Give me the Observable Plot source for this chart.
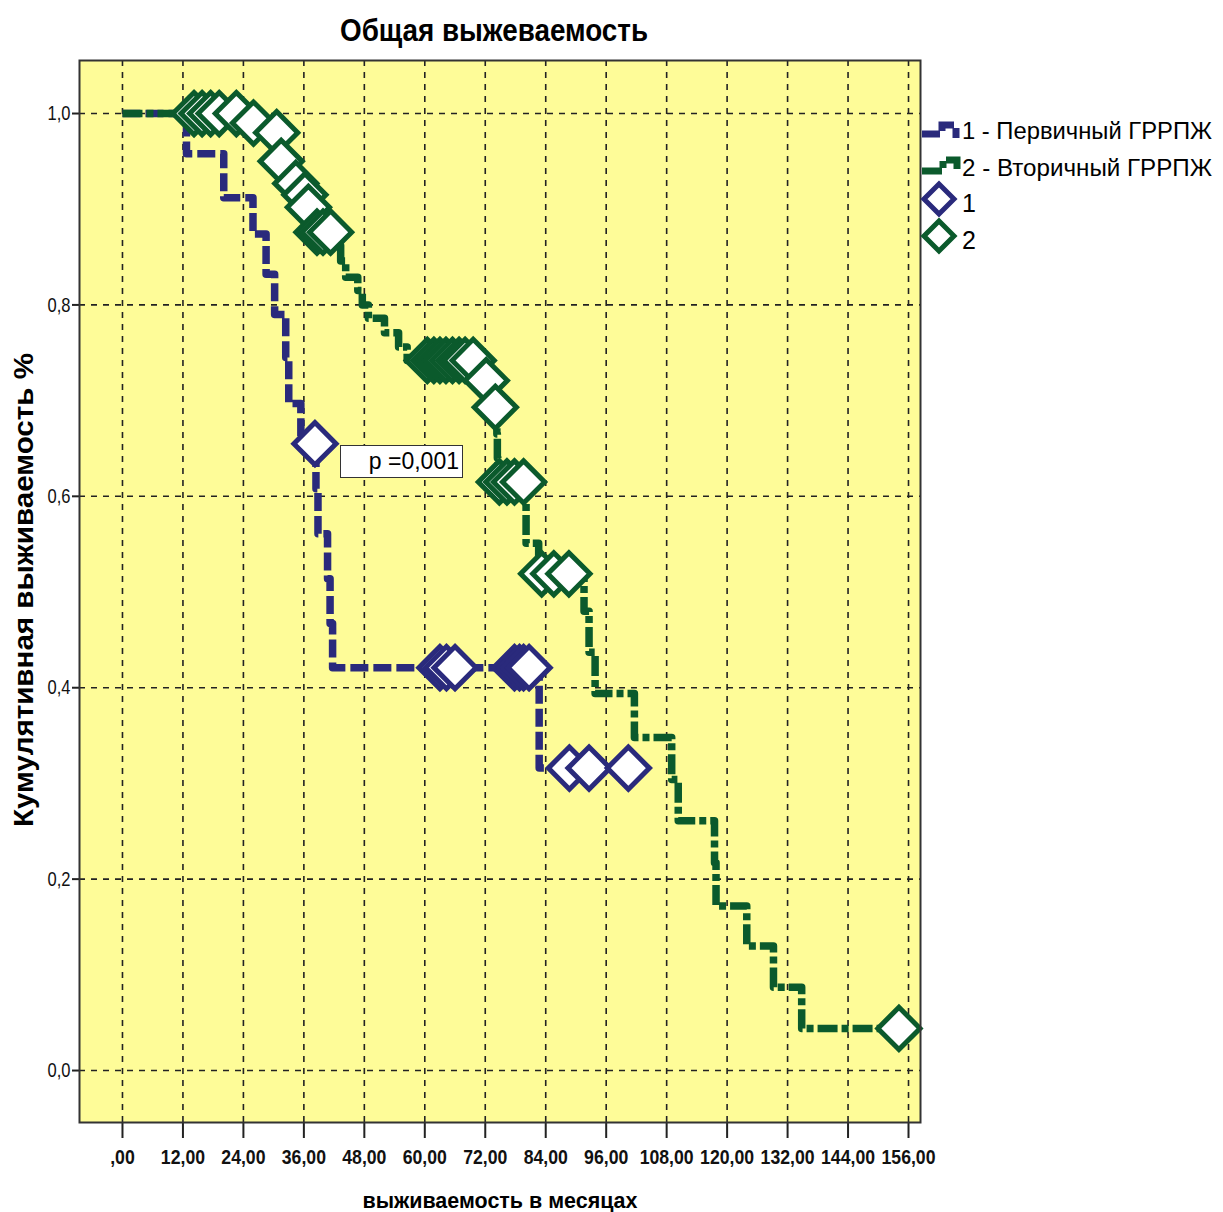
<!DOCTYPE html>
<html><head><meta charset="utf-8">
<script src="https://cdn.jsdelivr.net/npm/d3@7"></script>
<script src="https://cdn.jsdelivr.net/npm/@observablehq/plot@0.6"></script>
<style>
body{margin:0;background:#fff;}
#wrap{position:relative;width:1223px;height:1212px;overflow:hidden;font-family:"Liberation Sans",Arial,sans-serif;}
#wrap > svg{position:absolute;left:0;top:0;}
#pbox{position:absolute;left:340px;top:445px;width:118px;height:31px;border:1.5px solid #333;background:#fff;
 font:23px "Liberation Sans",Arial,sans-serif;text-align:right;line-height:31px;padding-right:3px;box-sizing:content-box;}
</style></head><body><div id="wrap"></div>
<script>
// ---- data ----
const xTicks = [0, 12, 24, 36, 48, 60, 72, 84, 96, 108, 120, 132, 144, 156];
const yTicks = [0, 0.2, 0.4, 0.6, 0.8, 1.0];
const groupNames = ["1 - Первичный ГРРПЖ", "2 - Вторичный ГРРПЖ"];
const censorNames = ["1", "2"];
const titleText = "Общая выжеваемость";
const xLabel = "выживаемость в месяцах";
const yLabel = "Кумулятивная выживаемость %";
const pText = "p =0,001";

// group 1 (primary): step points
const primaryTime = [0, 12.7, 20.1, 25.9, 28.5, 30.2, 32.4, 33.0, 35.4, 38.4, 38.8, 40.7, 41.2, 41.7, 82.7, 100.4];
const primarySurv = [1.0, 0.958, 0.912, 0.874, 0.832, 0.790, 0.745, 0.697, 0.655, 0.608, 0.561, 0.514, 0.467, 0.421, 0.316, 0.316];
const primaryCensTime = [38.2, 63.0, 64.3, 66.0, 77.8, 78.8, 79.6, 80.7, 88.7, 92.6, 100.4];
const primaryCensSurv = [0.655, 0.421, 0.421, 0.421, 0.421, 0.421, 0.421, 0.421, 0.316, 0.316, 0.316];

// group 2 (secondary): step points
const secondaryTime = [0, 24.0, 28.5, 31.0, 31.3, 33.5, 34.0, 35.8, 36.6, 37.3, 38.0, 42.6, 43.3, 44.3, 46.7, 47.6, 48.8, 52.0, 54.8, 56.5,
  71.0, 73.2, 74.3, 74.4, 74.5, 80.1, 82.6, 91.6, 92.6, 93.8, 101.6, 109.0, 110.3, 117.5, 117.8, 123.9, 129.2, 134.8, 154.1];
const secondarySurv = [1.0, 0.99, 0.98, 0.96, 0.95, 0.94, 0.927, 0.915, 0.902, 0.889, 0.876, 0.862, 0.846, 0.829, 0.815, 0.800, 0.786, 0.771, 0.756, 0.742,
  0.721, 0.693, 0.665, 0.640, 0.615, 0.551, 0.519, 0.480, 0.437, 0.394, 0.348, 0.304, 0.261, 0.217, 0.172, 0.130, 0.087, 0.044, 0.044];
const secondaryCensTime = [14.2, 15.8, 17.5, 19.2, 22.6, 26.0, 30.6, 31.5, 34.4, 36.2, 36.9, 38.6, 39.8, 41.3,
  60.5, 61.8, 63.0, 64.2, 65.5, 66.8, 68.0, 69.6, 72.2, 74.0, 74.8, 76.3, 77.8, 79.6, 83.2, 85.6, 88.6, 154.1];
const secondaryCensSurv = [1.0, 1.0, 1.0, 1.0, 1.0, 0.99, 0.98, 0.95, 0.927, 0.915, 0.902, 0.876, 0.876, 0.876,
  0.742, 0.742, 0.742, 0.742, 0.742, 0.742, 0.742, 0.742, 0.721, 0.693, 0.615, 0.615, 0.615, 0.615, 0.519, 0.519, 0.519, 0.044];

// ---- styles ----
const blue = "#2a2a7c", green = "#0b5a2c", yellow = "#fefc98";
const blueDash = "18,5", greenDash = "20,4,7,4";

const zip = (ts, ss) => ts.map((t, i) => ({t, s: ss[i]}));
const primary = zip(primaryTime, primarySurv);
const secondary = zip(secondaryTime, secondarySurv);
const primaryCens = zip(primaryCensTime, primaryCensSurv);
const secondaryCens = zip(secondaryCensTime, secondaryCensSurv);

const fmtX = d => d === 0 ? ",00" : d3.format(".2f")(d).replace(".", ",");
const fmtY = d => d3.format(".1f")(d).replace(".", ",");

const chart = Plot.plot({
  width: 1223, height: 1212,
  marginLeft: 79, marginRight: 303, marginTop: 60, marginBottom: 90,
  x: {domain: [-8.53, 158.38]},
  y: {domain: [-0.0543, 1.0554]},
  style: {background: "transparent", fontFamily: "'Liberation Sans',Arial,sans-serif", color: "#111"},
  marks: [
    Plot.frame({fill: yellow}),
    Plot.gridX(xTicks, {stroke: "#222", strokeOpacity: 1, strokeWidth: 1.6, strokeDasharray: "6,6"}),
    Plot.gridY(yTicks, {stroke: "#222", strokeOpacity: 1, strokeWidth: 1.6, strokeDasharray: "6,6"}),
    Plot.axisX(xTicks, {tickSize: 16, tickPadding: 11, tickFormat: fmtX, fontSize: 21, fontWeight: "bold", label: null, stroke: "#222", strokeWidth: 2}),
    Plot.axisY(yTicks, {tickSize: 7, tickPadding: 2, tickFormat: fmtY, fontSize: 21, label: null, stroke: "#222", strokeWidth: 2}),
    Plot.line(primary, {x: "t", y: "s", curve: "step-after", stroke: blue, strokeWidth: 7.5, strokeDasharray: blueDash, strokeLinecap: "butt"}),
    Plot.line(secondary, {x: "t", y: "s", curve: "step-after", stroke: green, strokeWidth: 7.5, strokeDasharray: greenDash, strokeLinecap: "butt"}),
    Plot.dot(primaryCens, {x: "t", y: "s", symbol: "diamond2", r: 19, fill: "white", stroke: blue, strokeWidth: 5}),
    Plot.dot(secondaryCens, {x: "t", y: "s", symbol: "diamond2", r: 19, fill: "white", stroke: green, strokeWidth: 5}),
    Plot.frame({stroke: "#333", strokeWidth: 2})
  ]
});
const wrap = document.getElementById("wrap");
wrap.appendChild(chart);

// condense the tick labels (narrow look of the reference)
d3.select(chart).selectAll('[aria-label="x-axis tick label"] text').each(function () {
  const s = this.textContent;
  const digits = s.replace(/[^0-9]/g, "").length;
  this.setAttribute("textLength", digits * 9.8 + 5);
  this.setAttribute("lengthAdjust", "spacingAndGlyphs");
});
d3.select(chart).selectAll('[aria-label="y-axis tick label"] text').each(function () {
  this.setAttribute("textLength", 23);
  this.setAttribute("lengthAdjust", "spacingAndGlyphs");
});

// overlay: title, axis labels, legend
const ns = "http://www.w3.org/2000/svg";
const ov = d3.select(wrap).append("svg").attr("xmlns", ns).attr("width", 1223).attr("height", 1212)
  .style("font-family", "'Liberation Sans',Arial,sans-serif");
ov.append("text").attr("x", 494).attr("y", 41).attr("text-anchor", "middle")
  .attr("font-size", 31).attr("font-weight", "bold").attr("textLength", 308).attr("lengthAdjust", "spacingAndGlyphs").text(titleText);
ov.append("text").attr("x", 500).attr("y", 1208).attr("text-anchor", "middle")
  .attr("font-size", 22).attr("font-weight", "bold").attr("textLength", 275).attr("lengthAdjust", "spacingAndGlyphs").text(xLabel);
ov.append("text").attr("transform", "translate(33,590) rotate(-90)").attr("text-anchor", "middle")
  .attr("font-size", 28).attr("font-weight", "bold").attr("textLength", 474).attr("lengthAdjust", "spacingAndGlyphs").text(yLabel);

// legend
const lg = ov.append("g");
lg.append("path").attr("d", "M922,134 H942 V125 H956 V138").attr("fill", "none").attr("stroke", blue).attr("stroke-width", 7).attr("stroke-dasharray", blueDash);
lg.append("path").attr("d", "M922,171 H943 V160 H957 V169").attr("fill", "none").attr("stroke", green).attr("stroke-width", 7).attr("stroke-dasharray", greenDash);
const dia = (cx, cy, h) => `M${cx},${cy - h} L${cx + h},${cy} L${cx},${cy + h} L${cx - h},${cy} Z`;
lg.append("path").attr("d", dia(939, 199, 15)).attr("fill", "white").attr("stroke", blue).attr("stroke-width", 5);
lg.append("path").attr("d", dia(939, 236, 15)).attr("fill", "white").attr("stroke", green).attr("stroke-width", 5);
const lt = [[groupNames[0], 139, 250], [groupNames[1], 176, 250], [censorNames[0], 212, null], [censorNames[1], 249, null]];
lt.forEach(([s, y, w]) => {
  const t = lg.append("text").attr("x", 962).attr("y", y).attr("font-size", w ? 23 : 25).text(s);
  if (w) t.attr("textLength", w).attr("lengthAdjust", "spacingAndGlyphs");
});

const pb = document.createElement("div");
pb.id = "pbox"; pb.textContent = pText;
wrap.appendChild(pb);
</script></body></html>
